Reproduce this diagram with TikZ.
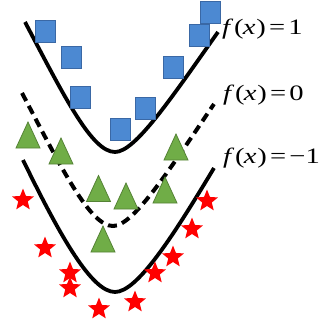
\documentclass[tikz,border=0pt]{standalone}
\usepackage{fontspec}
\setmainfont{Liberation Serif}
\usetikzlibrary{shapes.geometric,calc}
\definecolor{sqfill}{RGB}{76,137,210}
\definecolor{sqline}{RGB}{58,104,165}
\definecolor{trfill}{RGB}{112,173,71}
\definecolor{trline}{RGB}{84,130,53}
\definecolor{stfill}{RGB}{255,0,0}
\tikzset{
  curve/.style={line width=3.8pt, line cap=butt},
  dashcurve/.style={curve, line width=4pt, dash pattern=on 9pt off 5.5pt},
  sq/.style={rectangle, draw=sqline, fill=sqfill, line width=0.8pt, minimum width=20pt, minimum height=22pt, inner sep=0pt},
  st/.style={star, star points=5, star point ratio=2.3, fill=stfill, minimum size=23pt, inner sep=0pt},
  lab/.style={anchor=west, inner sep=0pt, font=\fontsize{22pt}{24pt}\selectfont},
  tri/.pic={\filldraw[fill=trfill, draw=trline, line width=0.8pt] (0,-13) -- (12,13) -- (-12,13) -- cycle;}
}
\newcommand{\fx}[1]{\scalebox{1.3}[1]{\textit{f}\kern0.5pt(\kern-0.5pt\textit{x}\kern0.5pt)\kern2.5pt=\kern2.5pt#1}}
\begin{document}
\begin{tikzpicture}[x=1pt, y=-1pt]
\useasboundingbox (0,0) rectangle (323,327);
% curves
\coordinate (a1) at (25,22);  \coordinate (m1) at (115,152); \coordinate (e1) at (218,32);
\coordinate (a2) at (22,93);  \coordinate (m2) at (113,226); \coordinate (e2) at (214,104);
\coordinate (a3) at (23,160); \coordinate (m3) at (115,292); \coordinate (e3) at (214,168);
\draw[curve] (a1) .. controls ($(a1)+(40,76)$) and ($(m1)+(-23,0)$) .. (m1)
  .. controls ($(m1)+(20,0)$) and ($(e1)+(-48,68)$) .. (e1);
\draw[dashcurve] (a2) .. controls ($(a2)+(40,76)$) and ($(m2)+(-23,0)$) .. (m2)
  .. controls ($(m2)+(20,0)$) and ($(e2)+(-46,68)$) .. (e2);
\draw[curve] (a3) .. controls ($(a3)+(38,78)$) and ($(m3)+(-23,0)$) .. (m3)
  .. controls ($(m3)+(22,0)$) and ($(e3)+(-42,70)$) .. (e3);
% squares
\node[sq] (s1) at (45,31) {};
\node[sq] (s2) at (71,57) {};
\node[sq] (s3) at (80,97) {};
\node[sq] (s4) at (120,129.5) {};
\node[sq] (s5) at (145,108) {};
\node[sq] (s6) at (173,67.5) {};
\node[sq] (s8) at (210,12.5) {};
\node[sq] (s7) at (199,35) {};
% triangles
\pic (t1) at (28,135) {tri};
\pic (t2) at (61,151) {tri};
\pic (t3) at (98.5,188.5) {tri};
\pic (t4) at (126,196) {tri};
\pic (t5) at (165,190) {tri};
\pic (t6) at (176,147) {tri};
\pic (t7) at (103,239) {tri};
% stars
\node[st] (r1) at (23,200) {};
\node[st] (r2) at (45,248) {};
\node[st] (r3) at (70,273) {};
\node[st] (r4) at (70,288) {};
\node[st] (r5) at (99,309) {};
\node[st] (r6) at (135,302) {};
\node[st] (r7) at (155,273) {};
\node[st] (r8) at (173,257) {};
\node[st] (r9) at (192,229) {};
\node[st] (r10) at (207,201) {};
% labels
\node[lab] (l1) at (222,29) {\fx{1}};
\node[lab] (l2) at (223,95) {\fx{0}};
\node[lab] (l3) at (223,158) {\fx{−1}};
\end{tikzpicture}
\end{document}
